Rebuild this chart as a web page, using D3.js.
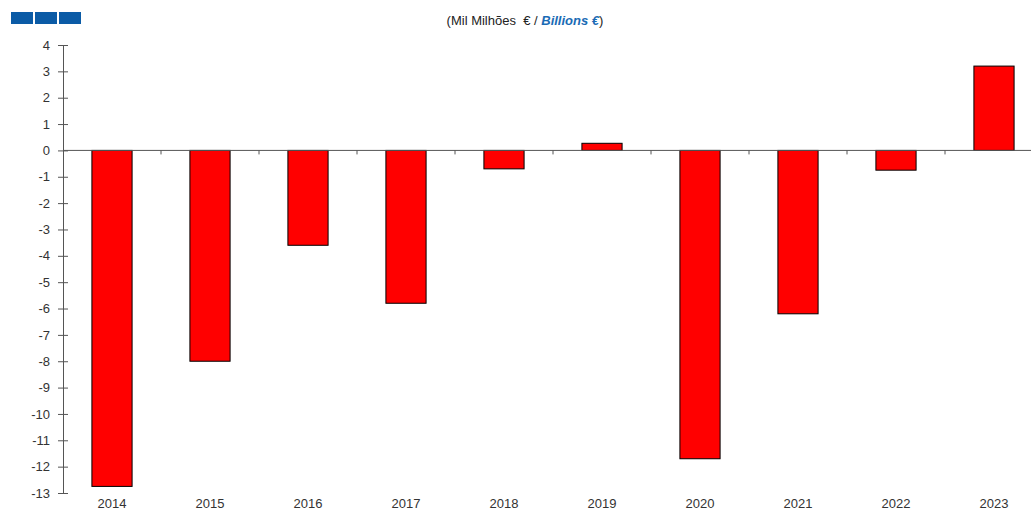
<!DOCTYPE html>
<html>
<head>
<meta charset="utf-8">
<script src="https://cdn.jsdelivr.net/npm/d3@7"></script>
<style>
  body { margin: 0; background: #fff; }
  svg { display: block; font-family: Arial, "Liberation Sans", sans-serif; }
  .axis text { fill: #333; font-size: 13px; }
  .axis path, .axis line { stroke: #555; }
</style>
</head>
<body>
<div id="plot-container"></div>
<script>
// data
var years = ['2014', '2015', '2016', '2017', '2018', '2019', '2020', '2021', '2022', '2023'];
var values = [-12.75, -8.0, -3.6, -5.8, -0.7, 0.27, -11.7, -6.2, -0.75, 3.2];
var yTicks = [4, 3, 2, 1, 0, -1, -2, -3, -4, -5, -6, -7, -8, -9, -10, -11, -12, -13];

var totalWidth = 1031, totalHeight = 512;
var margins = {left: 63, top: 45, bottom: 18};
var plotWidth = 980; // runs past the right edge, as in the original
var height = totalHeight - margins.top - margins.bottom - 1;

var svg = d3.select('#plot-container').append('svg').attr('width', totalWidth).attr('height', totalHeight);

// little logo blocks
svg.append('g').selectAll('rect').data([0, 1, 2]).enter().append('rect')
  .attr('x', function(d) { return 11 + d * 24; }).attr('y', 12)
  .attr('width', 22).attr('height', 12).attr('fill', '#0b5ba6');

// unit title
var title = svg.append('text').attr('x', 525).attr('y', 25).attr('text-anchor', 'middle')
  .style('font-size', '13px').attr('fill', '#222');
title.append('tspan').text('(Mil Milhões\u00a0 € / ');
title.append('tspan').text('Billions €').attr('fill', '#1a6bb5').style('font-style', 'italic').style('font-weight', 'bold');
title.append('tspan').text(')');

var xScale = d3.scaleBand().domain(years).range([0, plotWidth]).paddingInner(0.59).paddingOuter(0.295);
var yScale = d3.scaleLinear().domain([-13, 4]).range([height, 0]);

var plot = svg.append('g').attr('transform', 'translate(' + [margins.left, margins.top] + ')');

// bars
plot.selectAll('rect.bar').data(values).enter().append('rect').attr('class', 'bar')
  .attr('x', function(d, i) { return xScale(years[i]); })
  .attr('y', function(d) { return yScale(Math.max(0, d)); })
  .attr('width', xScale.bandwidth())
  .attr('height', function(d) { return Math.abs(yScale(d) - yScale(0)); })
  .attr('fill', '#ff0000').attr('stroke', '#000').attr('stroke-width', 1);

// zero line with category ticks
var zeroAxis = plot.append('g').attr('class', 'axis')
  .attr('transform', 'translate(0,' + yScale(0) + ')');
zeroAxis.append('line').attr('x1', 0).attr('x2', plotWidth).attr('stroke', '#555');
zeroAxis.selectAll('line.tk').data(d3.range(1, years.length)).enter().append('line').attr('class', 'tk')
  .attr('x1', function(d) { return d * xScale.step(); }).attr('x2', function(d) { return d * xScale.step(); })
  .attr('y1', 0).attr('y2', 4).attr('stroke', '#333');

// year labels at the bottom
plot.selectAll('text.year').data(years).enter().append('text').attr('class', 'year')
  .attr('x', function(d) { return xScale(d) + xScale.bandwidth() / 2; })
  .attr('y', height + 15).attr('text-anchor', 'middle')
  .style('font-size', '13px').attr('fill', '#333').text(function(d) { return d; });

// y axis
var yAxis = plot.append('g').attr('class', 'axis')
  .call(d3.axisLeft(yScale).tickValues(yTicks).tickSize(5).tickPadding(8).tickFormat(d3.format('d')));
yAxis.select('.domain').attr('d', 'M0.5,' + yScale(4) + 'V' + yScale(-13));
yAxis.selectAll('.tick line').attr('x1', -5).attr('x2', 5);
yAxis.selectAll('.tick text').text(function(d) { return d < 0 ? '-' + Math.abs(d) : d; });
</script>
</body>
</html>
